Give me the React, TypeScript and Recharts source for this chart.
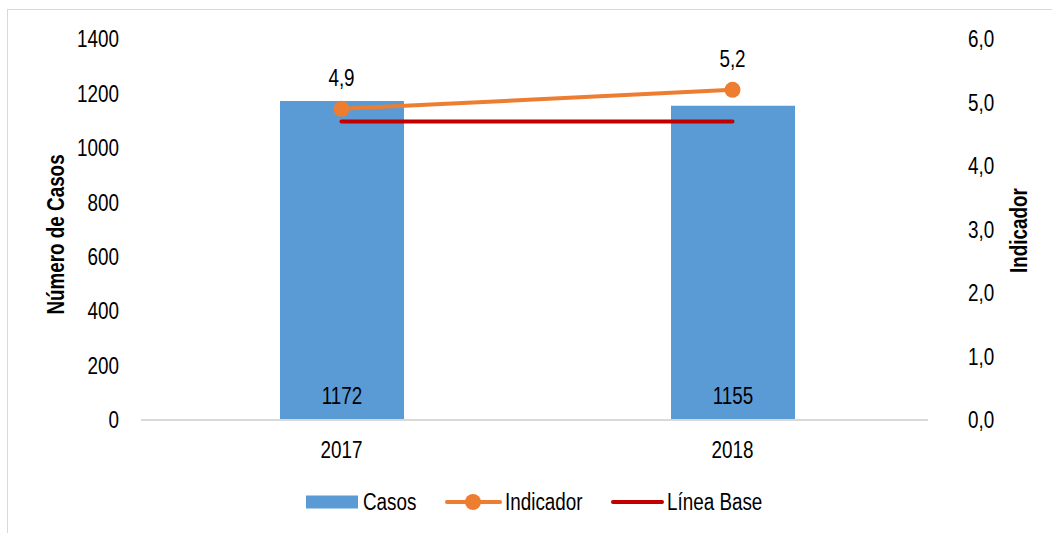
import React from 'react';
import {
  ComposedChart,
  Bar,
  Line,
  XAxis,
  YAxis,
  Legend,
  LabelList,
} from 'recharts';

const years = ['2017', '2018'];
const casos = [1172, 1155];
const indicador = [4.9, 5.2];
const lineaBase = [4.7, 4.7];
const leftTicks = [0, 200, 400, 600, 800, 1000, 1200, 1400];
const rightTicks = [0, 1, 2, 3, 4, 5, 6];
const seriesNames = ['Casos', 'Indicador', 'Línea Base'];
const leftTitle = 'Número de Casos';
const rightTitle = 'Indicador';

const data = years.map((y, i) => ({
  year: y,
  casos: casos[i],
  indicador: indicador[i],
  base: lineaBase[i],
}));

const FONT = '"Liberation Sans", Arial, sans-serif';
const FS = 23;
const SX = 0.82;
const BLUE = '#5B9BD5';
const ORANGE = '#ED7D31';
const RED = '#C00000';

const fmtComma = (v: number) => v.toFixed(1).replace('.', ',');

type NTProps = {
  x: number;
  y: number;
  text: string | number;
  anchor?: 'start' | 'middle' | 'end';
  bold?: boolean;
  rotate?: number;
  size?: number;
};

const NarrowText = ({ x, y, text, anchor = 'middle', bold = false, rotate = 0, size = FS }: NTProps) => (
  <g transform={`translate(${x},${y}) rotate(${rotate}) scale(${SX},1)`}>
    <text
      x={0}
      y={0}
      dy="0.36em"
      textAnchor={anchor}
      fontFamily={FONT}
      fontSize={size}
      fontWeight={bold ? 'bold' : 'normal'}
      fill="#000"
    >
      {text}
    </text>
  </g>
);

const LeftTick = (p: any) => <NarrowText x={p.x} y={p.y} text={p.payload.value} anchor="end" />;
const RightTick = (p: any) => <NarrowText x={p.x} y={p.y} text={fmtComma(p.payload.value)} anchor="start" />;
const XTick = (p: any) => <NarrowText x={p.x} y={p.y} text={p.payload.value} anchor="middle" />;

const BarValueLabel = (p: any) => (
  <NarrowText x={p.x + p.width / 2} y={p.y + p.height - 24} text={p.value} />
);
const LineValueLabel = (p: any) => <NarrowText x={p.x} y={p.y - 31} text={fmtComma(Number(p.value))} />;

const LeftTitle = (p: any) => {
  const vb = p.viewBox || {};
  return <NarrowText x={56} y={vb.y + vb.height / 2 + 5} text={leftTitle} bold rotate={-90} />;
};
const RightTitle = (p: any) => {
  const vb = p.viewBox || {};
  return <NarrowText x={1019} y={vb.y + vb.height / 2 + 1} text={rightTitle} bold rotate={-90} />;
};

const LegendContent = () => (
  <svg width={1052} height={30} style={{ display: 'block' }}>
    <rect x={306} y={8.5} width={52} height={13} fill={BLUE} />
    <NarrowText x={363} y={15} text={seriesNames[0]} anchor="start" />
    <line x1={447} y1={15} x2={500} y2={15} stroke={ORANGE} strokeWidth={4} strokeLinecap="round" />
    <circle cx={473} cy={15} r={8} fill={ORANGE} />
    <NarrowText x={505} y={15} text={seriesNames[1]} anchor="start" />
    <line x1={613} y1={15} x2={662} y2={15} stroke={RED} strokeWidth={4} strokeLinecap="round" />
    <NarrowText x={667} y={15} text={seriesNames[2]} anchor="start" />
  </svg>
);

export default function App() {
  return (
    <div style={{ position: 'fixed', left: 0, top: 0, width: 1052, height: 533, background: '#fff', overflow: 'hidden' }}>
      <div
        style={{
          position: 'absolute',
          left: 7,
          top: 9,
          width: 1060,
          height: 560,
          border: '1px solid #d9d9d9',
          boxSizing: 'border-box',
        }}
      />
      <div style={{ position: 'absolute', left: 0, top: 0 }}>
        <ComposedChart
          width={1052}
          height={533}
          data={data}
          margin={{ top: 39, right: 44, left: 0, bottom: 83 }}
          barCategoryGap={0}
        >
          <XAxis
            dataKey="year"
            padding={{ left: 5, right: 0 }}
            axisLine={{ stroke: '#d9d9d9', strokeWidth: 2 }}
            tickLine={false}
            tickSize={0}
            tickMargin={30}
            height={30}
            tick={<XTick />}
          />
          <YAxis
            yAxisId="left"
            domain={[0, 1400]}
            ticks={leftTicks}
            width={141}
            axisLine={false}
            tickLine={false}
            tickSize={0}
            tickMargin={22}
            tick={<LeftTick />}
            label={<LeftTitle />}
          />
          <YAxis
            yAxisId="right"
            orientation="right"
            domain={[0, 6]}
            ticks={rightTicks}
            width={80}
            axisLine={false}
            tickLine={false}
            tickSize={0}
            tickMargin={40}
            tick={<RightTick />}
            label={<RightTitle />}
          />
          <Legend
            verticalAlign="middle"
            layout="horizontal"
            wrapperStyle={{ top: 487, left: 0, width: 1052 }}
            content={<LegendContent />}
          />
          <Bar yAxisId="left" dataKey="casos" name={seriesNames[0]} fill={BLUE} barSize={124} isAnimationActive={false}>
            <LabelList dataKey="casos" content={<BarValueLabel />} />
          </Bar>
          <Line
            yAxisId="right"
            dataKey="base"
            name={seriesNames[2]}
            stroke={RED}
            strokeWidth={4}
            strokeLinecap="round"
            dot={false}
            activeDot={false}
            isAnimationActive={false}
          />
          <Line
            yAxisId="right"
            dataKey="indicador"
            name={seriesNames[1]}
            stroke={ORANGE}
            strokeWidth={4}
            dot={{ r: 8, fill: ORANGE, stroke: ORANGE, strokeWidth: 0 }}
            activeDot={false}
            isAnimationActive={false}
          >
            <LabelList dataKey="indicador" content={<LineValueLabel />} />
          </Line>
        </ComposedChart>
      </div>
    </div>
  );
}
